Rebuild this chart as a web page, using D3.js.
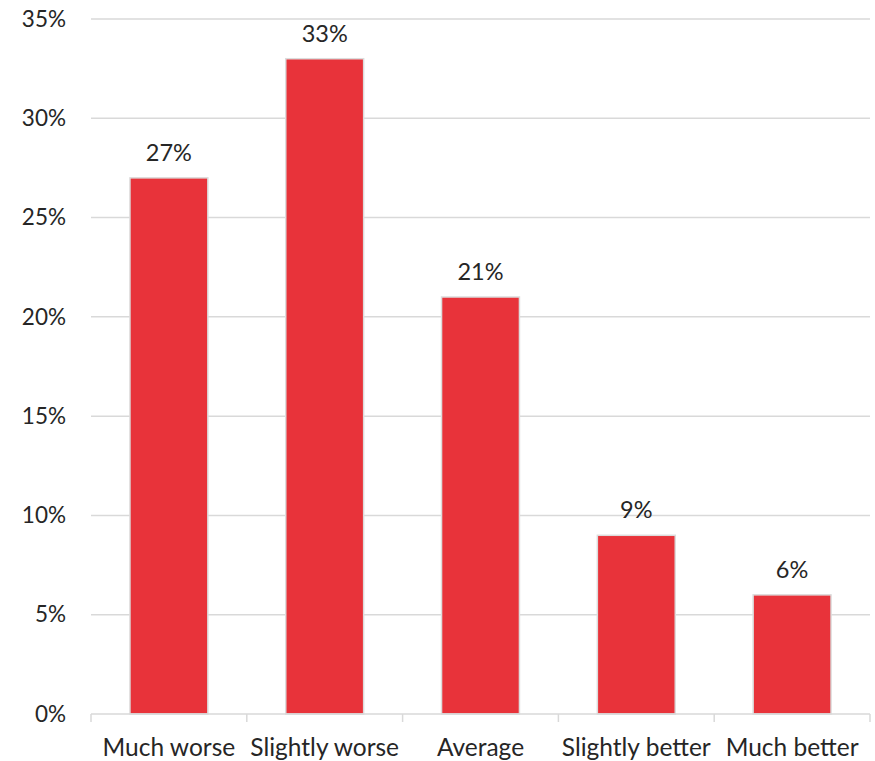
<!DOCTYPE html>
<html>
<head>
<meta charset="utf-8">
<script src="https://cdn.jsdelivr.net/npm/d3@7"></script>
<style>
  html, body { margin: 0; padding: 0; background: #fff; }
  svg text { font-family: Lato, "Open Sans", sans-serif; fill: #262626; }
</style>
</head>
<body>
<svg id="chart" width="875" height="761"></svg>
<script>
// Share of responses per rating
const categories = ["Much worse", "Slightly worse", "Average", "Slightly better", "Much better"];
const values = [27, 33, 21, 9, 6];
const yTicks = [0, 5, 10, 15, 20, 25, 30, 35];

const svg = d3.select("#chart");
const margin = { left: 91, right: 5, top: 19, bottom: 47 };
const W = 875, H = 761;

const x = d3.scaleBand()
  .domain(categories)
  .range([margin.left, W - margin.right])
  .paddingInner(0.5)
  .paddingOuter(0.25);

const y = d3.scaleLinear()
  .domain([0, 35])
  .range([H - margin.bottom, margin.top]);

// Horizontal gridlines
svg.append("g")
  .selectAll("line")
  .data(yTicks.filter(d => d > 0))
  .join("line")
  .attr("x1", margin.left)
  .attr("x2", W - margin.right)
  .attr("y1", d => y(d))
  .attr("y2", d => y(d))
  .attr("stroke", "#d9d9d9")
  .attr("stroke-width", 1.5);

// Y axis labels
const yAxis = d3.axisLeft(y)
  .tickValues(yTicks)
  .tickFormat(d => d + "%")
  .tickSize(0)
  .tickPadding(25);
const gy = svg.append("g")
  .attr("transform", `translate(${margin.left},0)`)
  .call(yAxis);
gy.select(".domain").remove();
gy.selectAll("text")
  .attr("font-size", 22.5)
  .attr("font-family", null)
  .attr("fill", "#262626");

// Bars
svg.append("g")
  .selectAll("rect")
  .data(values)
  .join("rect")
  .attr("x", (d, i) => x(categories[i]))
  .attr("width", x.bandwidth())
  .attr("y", d => y(d))
  .attr("height", d => y(0) - y(d))
  .attr("fill", "#e8333a")
  .attr("stroke", "#dcdcdc")
  .attr("stroke-width", 1.5);

// Value labels
svg.append("g")
  .selectAll("text")
  .data(values)
  .join("text")
  .attr("x", (d, i) => x(categories[i]) + x.bandwidth() / 2)
  .attr("y", d => y(d) - 17)
  .attr("text-anchor", "middle")
  .attr("font-size", 23.5)
  .text(d => d + "%");

// X axis with category boundary ticks
const xAxisG = svg.append("g");
xAxisG.append("line")
  .attr("x1", margin.left)
  .attr("x2", W - margin.right)
  .attr("y1", y(0))
  .attr("y2", y(0))
  .attr("stroke", "#d9d9d9")
  .attr("stroke-width", 1.5);
const bounds = d3.range(categories.length + 1).map(i => margin.left + i * (W - margin.right - margin.left) / categories.length);
xAxisG.selectAll("line.tick")
  .data(bounds)
  .join("line")
  .attr("class", "tick")
  .attr("x1", d => d)
  .attr("x2", d => d)
  .attr("y1", y(0))
  .attr("y2", y(0) + 8)
  .attr("stroke", "#d9d9d9")
  .attr("stroke-width", 1.5);

xAxisG.selectAll("text")
  .data(categories)
  .join("text")
  .attr("x", d => x(d) + x.bandwidth() / 2)
  .attr("y", y(0) + 42)
  .attr("text-anchor", "middle")
  .attr("font-size", 24.5)
  .text(d => d);
</script>
</body>
</html>
